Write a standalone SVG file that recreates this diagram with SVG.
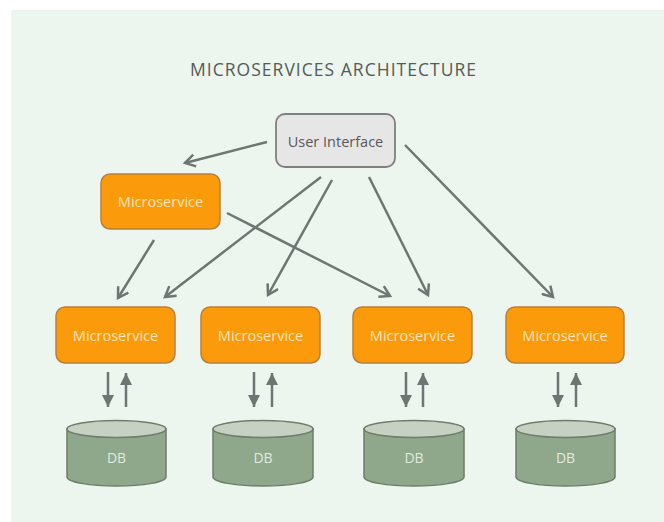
<svg xmlns="http://www.w3.org/2000/svg" width="664" height="522" viewBox="0 0 664 522">
  <defs>
    <style>
      .title { font-family: "Open Sans", "Liberation Sans", sans-serif; font-size: 17.5px; fill: #555a58; }
      .ui rect { fill: #e6e6e6; stroke: #7f7f7f; stroke-width: 1.8; }
      .ui text { font-family: "Open Sans", "Liberation Sans", sans-serif; font-size: 14.5px; fill: #595959; text-anchor: middle; }
      .ms rect { fill: #fb9a0a; stroke: #b97f3c; stroke-width: 1.5; }
      .ms text { font-family: "Open Sans", "Liberation Sans", sans-serif; font-size: 14.5px; fill: #fde3b8; text-anchor: middle; }
      .db .body { fill: #8fa78b; stroke: #6c7e68; stroke-width: 1.5; }
      .db .top { fill: #c6d1c4; stroke: #6c7e68; stroke-width: 1.5; }
      .db text { font-family: "Open Sans", "Liberation Sans", sans-serif; font-size: 14px; fill: #e2eadf; text-anchor: middle; }
      .link { stroke: #6f7572; stroke-width: 2.5; fill: none; marker-end: url(#open); }
      .io { stroke: #6f7572; stroke-width: 2.5; fill: none; marker-end: url(#solid); }
    </style>
    <marker id="open" markerUnits="userSpaceOnUse" markerWidth="14" markerHeight="14" refX="11" refY="7" orient="auto" viewBox="0 0 14 14">
      <path d="M1,1 L11,7 L1,13" fill="none" stroke="#6f7572" stroke-width="2.5"/>
    </marker>
    <marker id="solid" markerUnits="userSpaceOnUse" markerWidth="14" markerHeight="12" refX="12" refY="6" orient="auto" viewBox="0 0 14 12">
      <path d="M0,0 L12,6 L0,12 Z" fill="#6f7572"/>
    </marker>
  </defs>

  <rect x="0" y="0" width="664" height="522" fill="#ffffff"/>
  <rect x="11" y="10" width="653" height="512" fill="#ecf6ef"/>

  <text class="title" x="190" y="76" textLength="286" lengthAdjust="spacing">MICROSERVICES ARCHITECTURE</text>

  <g id="connectors">
    <line class="link" x1="267" y1="142" x2="185" y2="163"/>
    <line class="link" x1="154" y1="240" x2="118" y2="298"/>
    <line class="link" x1="321" y1="177" x2="165" y2="297"/>
    <line class="link" x1="332" y1="180" x2="268" y2="295"/>
    <line class="link" x1="227" y1="213" x2="390" y2="296"/>
    <line class="link" x1="369" y1="177" x2="428" y2="295"/>
    <line class="link" x1="405" y1="145" x2="553" y2="297"/>

    <line class="io" x1="108" y1="372" x2="108" y2="407"/>
    <line class="io" x1="126" y1="407" x2="126" y2="373"/>
    <line class="io" x1="254" y1="372" x2="254" y2="407"/>
    <line class="io" x1="272" y1="407" x2="272" y2="373"/>
    <line class="io" x1="406" y1="372" x2="406" y2="407"/>
    <line class="io" x1="423" y1="407" x2="423" y2="373"/>
    <line class="io" x1="558" y1="372" x2="558" y2="407"/>
    <line class="io" x1="576" y1="407" x2="576" y2="373"/>
  </g>

  <g id="user-interface" class="ui">
    <rect x="276" y="114" width="119" height="53" rx="9"/>
    <text x="335.5" y="147">User Interface</text>
  </g>

  <g id="ms-top" class="ms">
    <rect x="101" y="174" width="119" height="55" rx="9"/>
    <text x="160.5" y="207">Microservice</text>
  </g>

  <g id="ms-1" class="ms">
    <rect x="56" y="307" width="119" height="56" rx="9"/>
    <text x="115.5" y="341">Microservice</text>
  </g>
  <g id="ms-2" class="ms">
    <rect x="201" y="307" width="119" height="56" rx="9"/>
    <text x="260.5" y="341">Microservice</text>
  </g>
  <g id="ms-3" class="ms">
    <rect x="353" y="307" width="119" height="56" rx="9"/>
    <text x="412.5" y="341">Microservice</text>
  </g>
  <g id="ms-4" class="ms">
    <rect x="506" y="307" width="118" height="56" rx="9"/>
    <text x="565" y="341">Microservice</text>
  </g>

  <g id="db-1" class="db">
    <path class="body" d="M67,429 L67,477 A49.5,9 0 0 0 166,477 L166,429 Z"/>
    <ellipse class="top" cx="116.5" cy="429" rx="49.5" ry="8.5"/>
    <text x="116.5" y="463">DB</text>
  </g>
  <g id="db-2" class="db">
    <path class="body" d="M213,429 L213,477 A50,9 0 0 0 313,477 L313,429 Z"/>
    <ellipse class="top" cx="263" cy="429" rx="50" ry="8.5"/>
    <text x="263" y="463">DB</text>
  </g>
  <g id="db-3" class="db">
    <path class="body" d="M364,429 L364,477 A50,9 0 0 0 464,477 L464,429 Z"/>
    <ellipse class="top" cx="414" cy="429" rx="50" ry="8.5"/>
    <text x="414" y="463">DB</text>
  </g>
  <g id="db-4" class="db">
    <path class="body" d="M516,429 L516,477 A49.5,9 0 0 0 615,477 L615,429 Z"/>
    <ellipse class="top" cx="565.5" cy="429" rx="49.5" ry="8.5"/>
    <text x="565.5" y="463">DB</text>
  </g>
</svg>
